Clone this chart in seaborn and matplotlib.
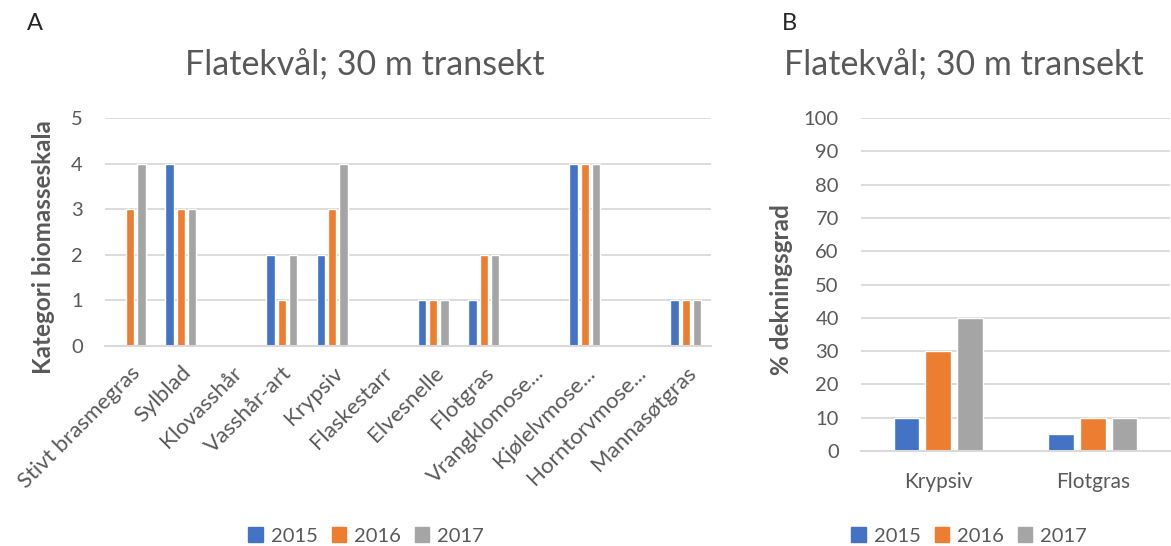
import pandas as pd
import matplotlib.pyplot as plt
import seaborn as sns

# Data
species = ['Stivt brasmegras', 'Sylblad', 'Klovasshår', 'Vasshår-art', 'Krypsiv',
           'Flaskestarr', 'Elvesnelle', 'Flotgras', 'Vrangklomose...',
           'Kjølelvmose...', 'Horntorvmose...', 'Mannasøtgras']
biomass_2015 = [0, 4, 0, 2, 2, 0, 1, 1, 0, 4, 0, 1]
biomass_2016 = [3, 3, 0, 1, 3, 0, 1, 2, 0, 4, 0, 1]
biomass_2017 = [4, 3, 0, 2, 4, 0, 1, 2, 0, 4, 0, 1]

cover_species = ['Krypsiv', 'Flotgras']
cover_2015 = [10, 5]
cover_2016 = [30, 10]
cover_2017 = [40, 10]

years = ['2015', '2016', '2017']
colors = ['#4472C4', '#ED7D31', '#A5A5A5']
grey_txt = '#595959'
grid_col = '#D9D9D9'

df_a = pd.DataFrame({
    'art': species * 3,
    'år': [y for y in years for _ in species],
    'verdi': biomass_2015 + biomass_2016 + biomass_2017,
})
df_b = pd.DataFrame({
    'art': cover_species * 3,
    'år': [y for y in years for _ in cover_species],
    'verdi': cover_2015 + cover_2016 + cover_2017,
})

sns.set_style('white')
plt.rcParams['font.family'] = ['Lato', 'DejaVu Sans']

W, H = 1171, 546
fig = plt.figure(figsize=(W / 100, H / 100), dpi=100)


def px_axes(x0, y_top, x1, y_bot):
    return fig.add_axes([x0 / W, 1 - y_bot / H, (x1 - x0) / W, (y_bot - y_top) / H])


def style_axes(ax, ymax, step, ylabel):
    ax.set_ylim(0, ymax)
    ax.set_yticks(range(0, ymax + 1, step))
    ax.grid(axis='y', color=grid_col, linewidth=1.3)
    ax.set_axisbelow(True)
    for s in ['top', 'right', 'left']:
        ax.spines[s].set_visible(False)
    ax.spines['bottom'].set_color(grid_col)
    ax.spines['bottom'].set_linewidth(1.5)
    ax.tick_params(axis='y', length=0, labelsize=14.5, colors=grey_txt, pad=16)
    ax.tick_params(axis='x', length=0, labelsize=15, colors=grey_txt, pad=15)
    ax.set_xlabel('')
    ax.set_ylabel(ylabel, fontsize=17.5, fontweight='bold', color=grey_txt)
    ax.get_legend().remove()


# Panel A
ax1 = px_axes(105, 118, 711, 346)
sns.barplot(data=df_a, x='art', y='verdi', hue='år', palette=colors,
            width=0.66, gap=0.25, ax=ax1, saturation=1, errorbar=None)
style_axes(ax1, 5, 1, 'Kategori biomasseskala')
plt.setp(ax1.get_xticklabels(), rotation=45, ha='right', rotation_mode='anchor')
ax1.tick_params(axis='x', pad=12, labelsize=16)
ax1.yaxis.set_label_coords(-50 / 606, (346 - 247) / 228)

# Panel B
ax2 = px_axes(861, 118, 1170, 451)
sns.barplot(data=df_b, x='art', y='verdi', hue='år', palette=colors,
            width=0.62, gap=0.2, ax=ax2, saturation=1, errorbar=None)
style_axes(ax2, 100, 10, '% dekningsgrad')
ax2.yaxis.set_label_coords(-68 / 309, (451 - 290) / 333)

# Titles and panel letters
fig.text(365, H - 65, 'Flatekvål; 30 m transekt', transform=None,
         ha='center', va='center', fontsize=24.5, color=grey_txt)
fig.text(964, H - 65, 'Flatekvål; 30 m transekt', transform=None,
         ha='center', va='center', fontsize=24.5, color=grey_txt)
fig.text(27, H - 23, 'A', transform=None, ha='left', va='center', fontsize=17)
fig.text(782, H - 23, 'B', transform=None, ha='left', va='center', fontsize=17)

# Legends
handles = [plt.Rectangle((0, 0), 1, 1, color=c) for c in colors]
for cx in (366, 969):
    fig.legend(handles, years, loc='center', bbox_to_anchor=(cx / W, 1 - 536 / H),
               ncol=3, frameon=False, fontsize=14.5, labelcolor=grey_txt,
               handlelength=0.7, handleheight=0.7, handletextpad=0.4,
               columnspacing=0.7)

fig.savefig('out.png', dpi=100)
